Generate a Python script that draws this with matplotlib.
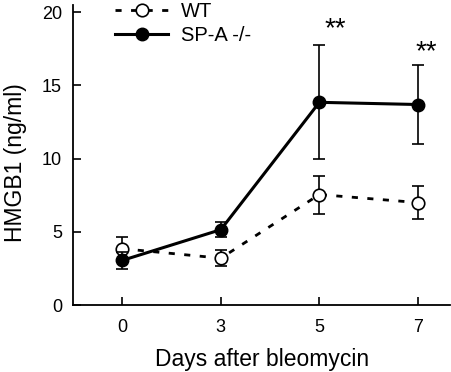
import matplotlib.pyplot as plt
import numpy as np
from matplotlib.lines import Line2D

plt.rcParams["font.family"] = ["Liberation Sans", "DejaVu Sans"]

days = ["0", "3", "5", "7"]
wt_mean = [3.85, 3.2, 7.55, 7.0]
wt_err = [0.8, 0.55, 1.3, 1.15]
spa_mean = [3.05, 5.15, 13.85, 13.7]
spa_err = [0.6, 0.5, 3.9, 2.7]
sig_days = ["5", "7"]
sig_label = "**"

x = np.arange(len(days))

fig = plt.figure(figsize=(4.52, 3.72), dpi=100)
ax = fig.add_axes([0.1615, 0.18, 0.835, 0.8066])

wt_style = dict(color="black", linestyle=(0, (2.2, 3.4)), linewidth=2.0,
                marker="o", markersize=9, markerfacecolor="white",
                markeredgecolor="black", markeredgewidth=1.2)
spa_style = dict(color="black", linestyle="-", linewidth=2.2, marker="o",
                 markersize=9, markerfacecolor="black", markeredgecolor="black")

ax.errorbar(x, wt_mean, yerr=wt_err, capsize=4, elinewidth=1.2, capthick=1.2,
            zorder=3, **wt_style)
ax.errorbar(x, spa_mean, yerr=spa_err, capsize=4, elinewidth=1.2, capthick=1.2,
            zorder=4, **spa_style)

# significance marks sit just right of and above the SP-A error bars
for d, (dx, dy) in zip(sig_days, [(0.16, 0.6), (0.08, 0.4)]):
    i = days.index(d)
    top = spa_mean[i] + spa_err[i]
    ax.text(x[i] + dx, top + dy, sig_label, ha="center", va="baseline",
            fontsize=20, clip_on=False)

ax.set_xlim(-0.5, 3.33)
ax.set_ylim(0, 20.5)
ax.set_xticks(x)
ax.set_xticklabels(days)
ax.set_yticks([0, 5, 10, 15, 20])
ax.tick_params(direction="in", length=6, width=1.2, labelsize=13, pad=8)
ax.tick_params(axis="x", pad=10)
ax.spines["top"].set_visible(False)
ax.spines["right"].set_visible(False)
ax.spines["left"].set_linewidth(1.3)
ax.spines["bottom"].set_linewidth(1.3)

ax.set_xlabel("Days after bleomycin", fontsize=16.5, va="baseline")
ax.xaxis.set_label_coords(0.5, -0.203)
ax.set_ylabel("HMGB1 (ng/ml)", fontsize=16.5)
ax.yaxis.set_label_coords(-0.123, 0.475)

handles = [Line2D([], [], **wt_style), Line2D([], [], **spa_style)]
ax.legend(handles, ["WT", "SP-A -/-"], loc="upper left",
          bbox_to_anchor=(0.0636, 1.07), frameon=False, fontsize=14.5,
          handlelength=2.65, handletextpad=0.6, labelspacing=0.25)

fig.savefig("out.png", dpi=100)
